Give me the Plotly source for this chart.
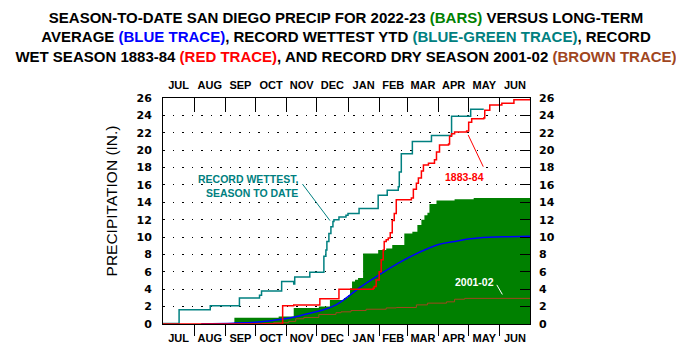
import plotly.graph_objects as go

# ---------------- data ----------------
months = ["JUL", "AUG", "SEP", "OCT", "NOV", "DEC", "JAN", "FEB", "MAR", "APR", "MAY", "JUN"]
month_lengths = [31, 31, 30, 31, 30, 31, 31, 28, 31, 30, 31, 30]
y_ticks = list(range(0, 27, 2))

# 2022-23 season-to-date (green bars), day of season (Jul 1 = 0)
green_day = [0, 71, 115, 130, 155, 166, 180, 184, 186, 188, 191, 194, 199, 214, 222, 228,
             240, 248, 253, 257, 260, 263, 265, 272, 290, 309, 365]
green_val = [0, 0.72, 0.85, 1.85, 2.0, 2.76, 3.0, 3.3, 4.1, 4.9, 5.1, 5.3, 8.1, 8.5, 8.7, 9.1,
             10.4, 10.6, 11.4, 12.0, 12.5, 12.8, 13.8, 14.2, 14.35, 14.5, 14.5]

# long-term average (blue)
blue_day = [38, 70, 92, 105, 118, 132, 145, 159, 172, 180, 197, 217, 234, 254, 274, 290, 305, 324, 345, 365]
blue_val = [0.03, 0.1, 0.2, 0.35, 0.55, 0.84, 1.22, 1.6, 2.2, 2.8, 4.3, 5.8, 7.0, 8.2, 9.15, 9.5,
            9.8, 9.98, 10.05, 10.1]

# record wettest year-to-date (blue-green)
teal_day = [0, 16, 47, 76, 96, 98, 118, 130, 131, 146, 160, 162, 163, 165, 167, 169, 170, 175,
            182, 184, 195, 214, 223, 234, 235, 237, 248, 267, 287, 306, 319]
teal_val = [0.07, 1.65, 2.1, 3.0, 3.3, 3.8, 4.9, 4.6, 5.4, 5.95, 7.8, 8.5, 9.5, 10.4, 11.2, 11.8,
            12.0, 12.3, 12.5, 12.7, 13.3, 14.8, 15.4, 15.8, 17.5, 19.6, 21.0, 21.7, 23.9, 24.7, 24.7]

# record wet season 1883-84 (red)
red_day = [0, 119, 130, 156, 175, 209, 210, 212, 215, 217, 219, 220, 222, 224, 226, 228, 230, 232,
           247, 249, 252, 254, 257, 259, 264, 270, 272, 275, 284, 285, 287, 290, 302, 304, 307,
           319, 320, 325, 337, 349, 365]
red_val = [0, 2.1, 2.2, 2.9, 4.0, 4.1, 4.3, 5.06, 6.0, 7.4, 8.5, 9.5, 9.7, 9.9, 10.5, 11.9, 12.7, 14.3,
           14.5, 15.5, 16.2, 16.8, 17.6, 18.3, 18.5, 18.9, 19.8, 20.6, 20.7, 21.6, 21.9, 22.1, 22.2,
           23.2, 23.6, 23.7, 24.6, 25.2, 25.4, 25.8, 25.9]

# record dry season 2001-02 (brown)
brown_day = [98, 110, 125, 132, 140, 155, 172, 177, 187, 202, 222, 232, 252, 263, 282, 290, 300, 365]
brown_val = [0.05, 0.15, 0.3, 0.6, 0.75, 1.1, 1.3, 1.4, 1.55, 1.7, 1.85, 1.9, 2.2, 2.4, 2.55,
             2.85, 2.95, 2.95]

# ---------------- derived month positions ----------------
bounds = [0]
for n in month_lengths:
    bounds.append(bounds[-1] + n)
mids = [(bounds[i] + bounds[i + 1]) / 2 for i in range(12)]
inner_bounds = bounds[1:-1]
season_len = bounds[-1]

GREEN = "#008000"
BLUE = "#0000FF"
TEAL = "#008080"
RED = "#FF0000"
BROWN = "#A0461E"

fig = go.Figure()
fig.add_trace(go.Scatter(x=green_day, y=green_val, mode="lines", line=dict(width=0, shape="hv", color=GREEN),
                         fill="tozeroy", fillcolor=GREEN, hoverinfo="skip", showlegend=False))
fig.add_trace(go.Scatter(x=brown_day, y=brown_val, mode="lines", line=dict(width=1, shape="hv", color=BROWN),
                         showlegend=False))
fig.add_trace(go.Scatter(x=blue_day, y=blue_val, mode="lines", line=dict(width=1.5, shape="spline", color=BLUE),
                         showlegend=False))
fig.add_trace(go.Scatter(x=teal_day, y=teal_val, mode="lines", line=dict(width=1.5, shape="hv", color=TEAL),
                         showlegend=False))
fig.add_trace(go.Scatter(x=red_day, y=red_val, mode="lines", line=dict(width=1.5, shape="hv", color=RED),
                         xaxis="x2", yaxis="y2", showlegend=False))

month_font = dict(family="Arial", size=11, color="black")
num_font = dict(family="DejaVu Sans", size=11, color="black")

# the page body adds an 8px margin; the figure is sized so it ends at the window edge
fig.update_layout(
    width=676, height=356,
    margin=dict(l=155, r=154, t=90, b=40),
    paper_bgcolor="white", plot_bgcolor="white",
    showlegend=False,
    title=dict(
        text=("<b>SEASON-TO-DATE SAN DIEGO PRECIP FOR 2022-23 <span style='color:%s'>(BARS)</span> VERSUS LONG-TERM<br>"
              "AVERAGE <span style='color:%s'>(BLUE TRACE)</span>, RECORD WETTEST YTD "
              "<span style='color:%s'>(BLUE-GREEN TRACE)</span>, RECORD<br>"
              "WET SEASON 1883-84 <span style='color:%s'>(RED TRACE)</span>, AND RECORD DRY SEASON 2001-02 "
              "<span style='color:%s'>(BROWN TRACE)</span></b>") % (GREEN, BLUE, TEAL, RED, BROWN),
        x=0.5, xanchor="center", y=0.958, yanchor="top",
        font=dict(family="Arial", size=15, color="black"),
    ),
    xaxis=dict(
        range=[0, season_len], showgrid=False, zeroline=False,
        showline=True, mirror=True, linecolor="black", linewidth=1,
        tickmode="array", tickvals=mids, ticktext=["<b>%s</b>" % m for m in months],
        ticks="", tickfont=month_font, ticklabelstandoff=4,
        minor=dict(tickmode="array", tickvals=inner_bounds, ticks="outside", ticklen=11,
                   tickcolor="black", tickwidth=1, showgrid=False),
    ),
    xaxis2=dict(
        range=[0, season_len], overlaying="x", side="top", anchor="y",
        showgrid=False, zeroline=False, showline=False,
        tickmode="array", tickvals=mids, ticktext=["<b>%s</b>" % m for m in months],
        ticks="", tickfont=month_font, ticklabelstandoff=6,
        minor=dict(tickmode="array", tickvals=inner_bounds, ticks="inside", ticklen=14,
                   tickcolor="black", tickwidth=1, showgrid=False),
    ),
    yaxis=dict(
        range=[0, 26], zeroline=False,
        showline=True, mirror=True, linecolor="black", linewidth=1,
        tickmode="array", tickvals=y_ticks, ticktext=["<b>%d</b>" % v for v in y_ticks],
        ticks="", tickfont=num_font, ticklabelstandoff=8,
        showgrid=True, gridcolor="black", gridwidth=1, griddash="1.5px,8px",
    ),
    yaxis2=dict(
        range=[0, 26], overlaying="y", side="right", anchor="x",
        zeroline=False, showline=False, showgrid=False,
        tickmode="array", tickvals=y_ticks, ticktext=["<b>%d</b>" % v for v in y_ticks],
        ticks="inside", ticklen=10, tickcolor="black", tickwidth=1,
        tickfont=num_font, ticklabelstandoff=8,
    ),
)

ann_font = dict(family="Arial", size=10.5)
fig.add_annotation(x=136, y=15.9, xref="x", yref="y", xanchor="right", yanchor="middle", align="right",
                   text="<b>RECORD WETTEST,<br>SEASON TO DATE</b>", showarrow=False,
                   font=dict(ann_font, color=TEAL))
fig.add_annotation(x=299.5, y=16.9, xref="x", yref="y", text="<b>1883-84</b>", showarrow=False,
                   font=dict(ann_font, color=RED))
fig.add_annotation(x=310, y=4.78, xref="x", yref="y", text="<b>2001-02</b>", showarrow=False,
                   font=dict(ann_font, color="white"))
fig.add_annotation(x=-0.14, y=0.545, xref="paper", yref="paper", xanchor="center", yanchor="middle",
                   textangle=-90, text="PRECIPITATION (IN.)", showarrow=False,
                   font=dict(family="Arial", size=15.5, color="black"))

fig.add_shape(type="line", xref="x", yref="y", x0=138.7, y0=16.1, x1=166, y1=11.9,
              line=dict(color=TEAL, width=1))
fig.add_shape(type="line", xref="x", yref="y", x0=303.5, y0=21.75, x1=318.5, y1=18.1,
              line=dict(color=RED, width=1))
fig.add_shape(type="line", xref="x", yref="y", x0=332, y0=4.5, x1=337.5, y1=3.4,
              line=dict(color="white", width=1))

fig.write_html("out.html")
